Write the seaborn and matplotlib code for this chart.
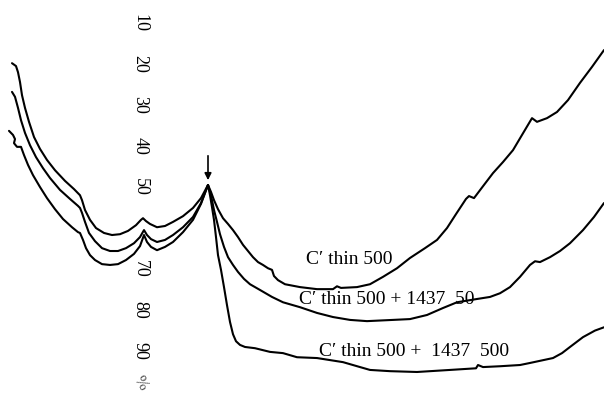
import matplotlib
matplotlib.use("Agg")
import matplotlib.pyplot as plt
import seaborn as sns
import pandas as pd

# Position along the spectrum (arbitrary chart units) and transmittance (%)
x_a = [12, 16, 18, 20, 22, 25, 29, 34, 40, 47, 55, 65, 74, 78, 80, 82, 85, 90, 96, 104, 112, 120, 128, 136,
       141, 143, 146, 150, 157, 165, 173, 183, 193, 201,
       208, 211, 214, 218, 223, 228, 233, 238, 243, 248, 253, 258, 263, 268, 272, 274, 278, 285, 300, 317,
       333, 337, 341, 357, 370, 383, 397, 410, 425, 437, 447, 456, 466, 469, 474, 483, 493, 503, 513, 522,
       532, 537, 547, 557, 568, 580, 592, 604]
y_a = [19.8, 20.5, 22.0, 24.4, 27.6, 30.7, 34.1, 37.8, 40.7, 43.4, 45.9, 48.5, 50.5, 51.5, 52.0, 53.2, 55.6,
       58.0, 60.0, 61.2, 61.7, 61.5, 60.7, 59.3, 58.0, 57.6, 58.3, 59.0, 59.8, 59.5, 58.5, 57.1, 55.1, 52.7,
       49.5, 51.2, 53.2, 55.4, 57.6, 59.0, 60.5, 62.2, 64.1, 65.6, 67.1, 68.3, 69.0, 69.8, 70.2, 71.7, 72.7,
       73.7, 74.4, 74.9, 74.9, 74.2, 74.6, 74.4, 73.7, 71.9, 69.8, 67.3, 64.9, 62.9, 60.0, 56.6, 52.9, 52.2,
       52.7, 49.8, 46.6, 43.9, 41.0, 37.3, 33.2, 34.1, 33.2, 31.7, 28.8, 24.6, 20.7, 16.6]

x_b = [12, 15, 18, 21, 25, 30, 36, 43, 50, 60, 70, 78, 80, 82, 85, 89, 95, 102, 110, 118, 126, 134, 140,
       144, 147, 151, 157, 165, 173, 183, 193, 201,
       208, 210, 212, 214, 217, 220, 224, 228, 233, 238, 244, 250, 260, 272, 283, 300, 317, 333, 350, 367,
       393, 410, 427, 443, 457, 477, 490, 500, 510, 520, 530, 535, 540, 550, 560, 570, 583, 594, 604]
y_b = [26.8, 28.0, 30.7, 33.7, 36.8, 39.8, 42.7, 45.4, 47.8, 50.7, 52.9, 54.6, 55.1, 56.3, 58.5, 61.2, 63.2,
       64.9, 65.6, 65.6, 64.9, 63.7, 62.2, 60.5, 61.7, 62.7, 63.4, 62.9, 61.7, 59.8, 57.3, 53.9,
       49.5, 51.2, 53.2, 55.6, 58.5, 61.5, 64.6, 67.1, 69.0, 70.7, 72.4, 73.7, 75.1, 76.8, 78.1, 79.3, 80.7,
       81.7, 82.4, 82.7, 82.4, 82.2, 81.2, 79.5, 78.1, 77.3, 76.8, 75.9, 74.4, 71.9, 69.0, 68.1, 68.3, 67.1,
       65.6, 63.7, 60.5, 57.3, 53.9]

x_c = [9, 13, 15, 14, 17, 21, 24, 28, 33, 40, 47, 55, 63, 72, 78, 80, 83, 86, 90, 95, 102, 110, 118, 126,
       134, 140, 144, 147, 151, 157, 165, 173, 183, 193, 201,
       208, 210, 212, 214, 216, 218, 221, 224, 227, 230, 233, 236, 240, 245, 255, 270, 283, 297, 317, 330,
       343, 360, 370, 390, 417, 450, 476, 478, 483, 500, 520, 530, 553, 562, 570, 583, 595, 604]
y_c = [36.3, 37.3, 38.3, 39.3, 40.2, 40.2, 42.2, 44.6, 47.1, 50.0, 52.7, 55.4, 57.8, 59.8, 61.0, 61.2, 62.9,
       64.9, 66.6, 67.8, 68.8, 69.0, 68.8, 67.8, 66.3, 64.4, 61.7, 63.4, 64.6, 65.4, 64.6, 63.4, 61.0, 58.0,
       54.1,
       49.5, 52.0, 54.9, 58.0, 62.2, 66.6, 70.2, 74.4, 78.8, 82.9, 85.9, 87.6, 88.5, 89.0, 89.3, 90.2, 90.5,
       91.5, 91.7, 92.2, 92.7, 93.9, 94.6, 94.9, 95.1, 94.6, 94.2, 93.4, 93.9, 93.7, 93.4, 92.9, 91.7, 90.5,
       89.0, 86.6, 85.0, 84.2]

series_names = ["C\u2032 thin 500", "C\u2032 thin 500 + 1437  50", "C\u2032 thin 500 +  1437  500"]
label_x = [349, 387, 414]
label_y = [67.6, 77.4, 90.0]

tick_values = [10, 20, 30, 40, 50, 70, 80, 90]
tick_x = 140
percent_y = 97.8

arrow_x = 208
arrow_from = 41.7
arrow_to = 49.0

sns.set_theme(style="white")
plt.rcParams["font.family"] = ["Liberation Serif", "DejaVu Serif"]

fig = plt.figure(figsize=(6.04, 3.97), dpi=100)
ax = fig.add_axes([0, 0, 1, 1])

for xs, ys in [(x_a, y_a), (x_b, y_b), (x_c, y_c)]:
    df = pd.DataFrame({"x": xs, "y": ys})
    sns.lineplot(data=df, x="x", y="y", sort=False, estimator=None, color="black",
                 linewidth=1.5, ax=ax, solid_joinstyle="round", solid_capstyle="round")

for name, lx, ly in zip(series_names, label_x, label_y):
    ax.text(lx, ly, name, ha="center", va="center", fontsize=14, color="black")

for v in tick_values:
    ax.text(tick_x, v, str(v), rotation=-90, ha="center", va="center", fontsize=13, color="black")
ax.text(tick_x, percent_y, "%", rotation=-60, ha="center", va="center", fontsize=12, color="#555555")

ax.annotate("", xy=(arrow_x, arrow_to), xytext=(arrow_x, arrow_from),
            arrowprops=dict(arrowstyle="-|>", color="black", lw=1.2, mutation_scale=10))

ax.set_xlim(0, 604)
ax.set_ylim(101.2, 4.39)
ax.axis("off")

fig.savefig("out.png", dpi=100, facecolor="white")
